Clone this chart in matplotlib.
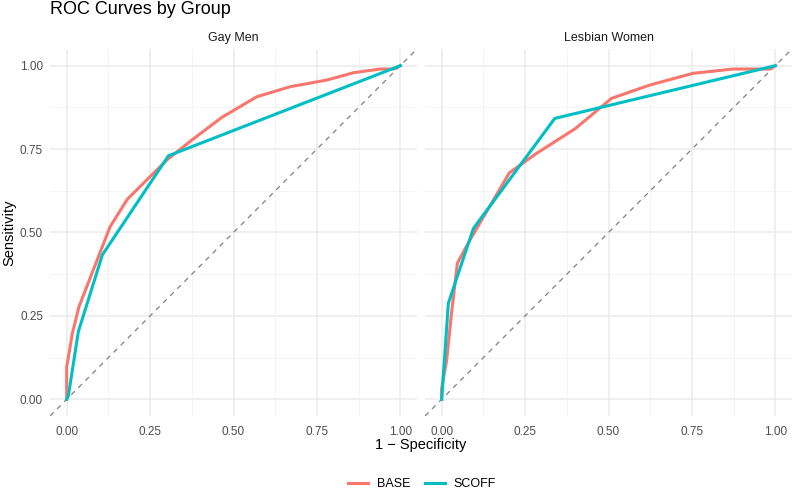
import matplotlib
matplotlib.use("Agg")
import matplotlib.pyplot as plt
from matplotlib.lines import Line2D

plt.rcParams['font.family'] = ['Liberation Sans', 'DejaVu Sans']

groups = ["Gay Men", "Lesbian Women"]
series = ["BASE", "SCOFF"]
colors = {"BASE": "#F8766D", "SCOFF": "#00BFC4"}

gm_base_fpr = [0.0, 0.0, 0.004, 0.017, 0.037, 0.13, 0.182, 0.30, 0.375, 0.465, 0.57, 0.67, 0.78, 0.86, 0.94, 0.98, 1.0]
gm_base_tpr = [0.0, 0.098, 0.12, 0.198, 0.278, 0.517, 0.60, 0.717, 0.777, 0.845, 0.907, 0.937, 0.957, 0.979, 0.99, 0.99, 1.0]
gm_scoff_fpr = [0.0, 0.005, 0.035, 0.107, 0.305, 1.0]
gm_scoff_tpr = [0.0, 0.01, 0.203, 0.433, 0.730, 1.0]

lw_base_fpr = [0.0, 0.0, 0.015, 0.03, 0.047, 0.085, 0.203, 0.284, 0.40, 0.509, 0.624, 0.753, 0.873, 0.985, 1.0]
lw_base_tpr = [0.0, 0.033, 0.118, 0.263, 0.408, 0.478, 0.679, 0.737, 0.811, 0.902, 0.942, 0.977, 0.99, 0.99, 1.0]
lw_scoff_fpr = [0.0, 0.02, 0.095, 0.339, 1.0]
lw_scoff_tpr = [0.0, 0.288, 0.512, 0.842, 1.0]

data = {
    "Gay Men": {"BASE": (gm_base_fpr, gm_base_tpr), "SCOFF": (gm_scoff_fpr, gm_scoff_tpr)},
    "Lesbian Women": {"BASE": (lw_base_fpr, lw_base_tpr), "SCOFF": (lw_scoff_fpr, lw_scoff_tpr)},
}

ticks = [0.0, 0.25, 0.5, 0.75, 1.0]
tick_labels = ["0.00", "0.25", "0.50", "0.75", "1.00"]
minor = [0.125, 0.375, 0.625, 0.875]

fig = plt.figure(figsize=(7.94, 4.9), dpi=100)
lefts = [50 / 794, 425 / 794]
w = 367 / 794
bottom = 1 - 416 / 490
h = 367 / 490

for i, g in enumerate(groups):
    ax = fig.add_axes([lefts[i], bottom, w, h])
    ax.set_xlim(-0.05, 1.05)
    ax.set_ylim(-0.05, 1.05)
    for m in minor:
        ax.axvline(m, color="#F2F2F2", lw=0.6, zorder=0)
        ax.axhline(m, color="#F2F2F2", lw=0.6, zorder=0)
    for t in ticks:
        ax.axvline(t, color="#EBEBEB", lw=1.1, zorder=0)
        ax.axhline(t, color="#EBEBEB", lw=1.1, zorder=0)
    ax.axline((0, 0), (1, 1), color="gray", lw=0.9, ls=(0, (4, 4)), zorder=1)
    for s in series:
        x, y = data[g][s]
        ax.plot(x, y, color=colors[s], lw=2.2, zorder=2, solid_joinstyle="round")
    for sp in ax.spines.values():
        sp.set_visible(False)
    ax.set_xticks(ticks)
    ax.set_xticklabels(tick_labels)
    ax.set_yticks(ticks)
    if i == 0:
        ax.set_yticklabels(tick_labels)
    else:
        ax.set_yticklabels([])
    ax.tick_params(length=0, labelsize=8.5, colors="#4D4D4D")
    ax.tick_params(axis="x", pad=7)
    ax.tick_params(axis="y", pad=5)
    ax.set_title(g, fontsize=9, color="#1A1A1A", pad=6)

fig.text(50 / 794, 1 - 10 / 490, "ROC Curves by Group", fontsize=13, color="black", va="center", ha="left")
fig.text(9 / 794, 1 - 233 / 490, "Sensitivity", fontsize=10.5, rotation=90, va="center", ha="center")
fig.text(421 / 794, 1 - 445 / 490, "1 \u2212 Specificity", fontsize=10.5, va="center", ha="center")

handles = [Line2D([0], [0], color=colors[s], lw=2.2) for s in series]
fig.legend(handles, series, loc="center", bbox_to_anchor=(422 / 794, 1 - 484 / 490), ncol=2,
           frameon=False, fontsize=9, handlelength=1.6, columnspacing=1.2, handletextpad=0.7)

fig.savefig("out.png", dpi=100, facecolor="white")
